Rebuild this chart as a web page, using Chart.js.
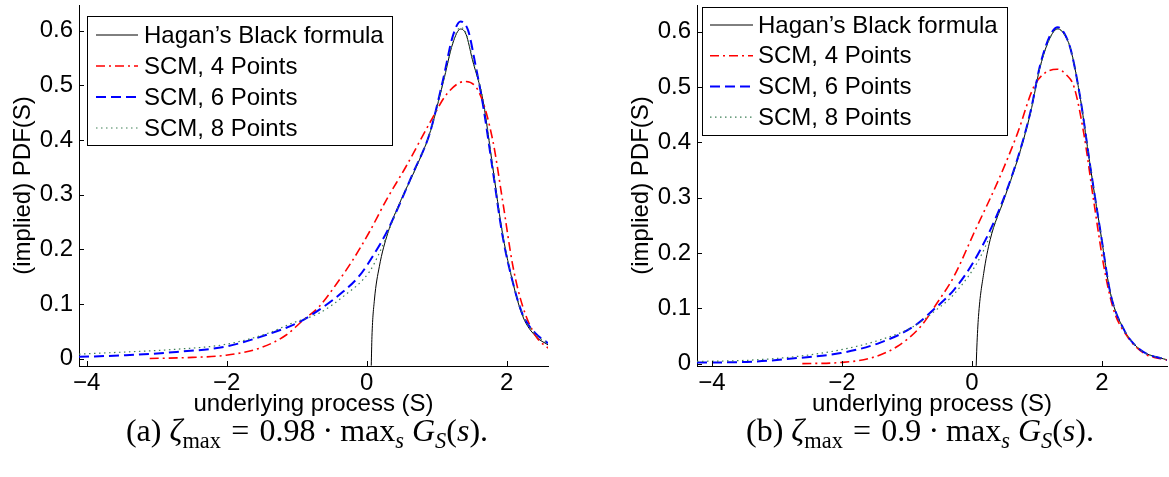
<!DOCTYPE html>
<html>
<head>
<meta charset="utf-8">
<script src="https://cdn.jsdelivr.net/npm/chart.js@4.4.0/dist/chart.umd.min.js"></script>
<style>
  body { margin: 0; background: #fff; width: 1169px; height: 477px; position: relative; overflow: hidden; }
  .panel { position: absolute; top: 0; height: 420px; }
  .caption { position: absolute; top: 411px; font-family: 'Liberation Serif', 'DejaVu Serif', serif; font-size: 32px; line-height: 38px; white-space: nowrap; transform: translateX(-50%); color: #000; }
  .caption sub { font-size: 70%; vertical-align: -0.3em; line-height: 0; }
  .caption .op { margin: 0 0.32em; }
  .caption .dot { margin: 0 0.22em; }
</style>
</head>
<body>
<div class="panel" style="left:0;width:560px"><canvas id="chartA" width="560" height="420"></canvas></div>
<div class="panel" style="left:618px;width:551px"><canvas id="chartB" width="551" height="420"></canvas></div>
<div class="caption" style="left:307px">(a) <i>ζ</i><sub>max</sub><span class="op">=</span>0.98<span class="dot">·</span>max<sub><i>s</i></sub> <i>G</i><sub><i>S</i></sub>(<i>s</i>).</div>
<div class="caption" style="left:920px">(b) <i>ζ</i><sub>max</sub><span class="op">=</span>0.9<span class="dot">·</span>max<sub><i>s</i></sub> <i>G</i><sub><i>S</i></sub>(<i>s</i>).</div>
<script>
// tick values and series names
const xTicks = [-4, -2, 0, 2];
const yTicks = [0, 0.1, 0.2, 0.3, 0.4, 0.5, 0.6];
const seriesLabels = ['Hagan’s Black formula', 'SCM, 4 Points', 'SCM, 6 Points', 'SCM, 8 Points'];

// panel (a): zeta_max = 0.98
const hagA_x = [0.065, 0.075, 0.11, 0.18, 0.30, 0.49, 0.71, 0.90, 1.09, 1.23, 1.34, 1.42, 1.51, 1.66, 1.80, 1.94, 2.09, 2.23, 2.42, 2.59];
const hagA_y = [-0.013, 0.04, 0.107, 0.168, 0.229, 0.29, 0.351, 0.412, 0.504, 0.577, 0.603, 0.593, 0.547, 0.473, 0.351, 0.229, 0.138, 0.077, 0.040, 0.025];
const scm4A_x = [-3.10, -2.49, -2.01, -1.53, -1.15, -0.91, -0.68, -0.44, -0.20, 0.04, 0.28, 0.56, 0.90, 1.15, 1.40, 1.61, 1.80, 1.94, 2.09, 2.23, 2.42, 2.59];
const scm4A_y = [0.0, 0.002, 0.006, 0.019, 0.043, 0.07, 0.095, 0.135, 0.18, 0.232, 0.29, 0.351, 0.431, 0.485, 0.507, 0.486, 0.40, 0.29, 0.168, 0.095, 0.04, 0.019];
const scm6A_x = [-4.11, -3.44, -2.72, -2.01, -1.44, -0.96, -0.68, -0.34, -0.10, 0.10, 0.30, 0.66, 0.90, 1.09, 1.23, 1.34, 1.45, 1.55, 1.66, 1.80, 1.94, 2.09, 2.23, 2.42, 2.59];
const scm6A_y = [0.003, 0.006, 0.012, 0.022, 0.043, 0.067, 0.089, 0.122, 0.152, 0.19, 0.235, 0.339, 0.412, 0.51, 0.59, 0.617, 0.60, 0.54, 0.465, 0.345, 0.225, 0.138, 0.08, 0.045, 0.028];
const scm8A_x = [-4.11, -3.44, -2.72, -2.01, -1.44, -1.06, -0.68, -0.34, 0.04, 0.18, 0.30, 0.49, 0.71, 0.90, 1.09, 1.23, 1.34, 1.42, 1.51, 1.66, 1.80, 1.94, 2.09, 2.23, 2.42, 2.59];
const scm8A_y = [0.008, 0.012, 0.017, 0.026, 0.045, 0.065, 0.083, 0.113, 0.159, 0.193, 0.229, 0.29, 0.351, 0.412, 0.504, 0.578, 0.606, 0.595, 0.55, 0.475, 0.352, 0.23, 0.14, 0.08, 0.043, 0.028];

// panel (b): zeta_max = 0.9
const hagB_x = [0.065, 0.075, 0.10, 0.18, 0.28, 0.49, 0.70, 0.90, 1.05, 1.21, 1.32, 1.42, 1.52, 1.67, 1.82, 1.98, 2.13, 2.34, 2.59, 3.0];
const hagB_y = [-0.004, 0.03, 0.085, 0.163, 0.224, 0.296, 0.368, 0.453, 0.537, 0.591, 0.605, 0.595, 0.567, 0.477, 0.356, 0.236, 0.127, 0.061, 0.025, 0.0065];
const scm4B_x = [-2.61, -2.02, -1.56, -1.15, -0.79, -0.54, -0.28, 0.03, 0.42, 0.70, 0.95, 1.12, 1.31, 1.45, 1.57, 1.72, 1.87, 2.03, 2.18, 2.39, 2.64, 3.0];
const scm4B_y = [0.0, 0.002, 0.01, 0.031, 0.067, 0.109, 0.157, 0.236, 0.335, 0.416, 0.50, 0.525, 0.532, 0.522, 0.50, 0.416, 0.296, 0.175, 0.097, 0.049, 0.019, 0.0065];
const scm6B_x = [-4.23, -3.46, -2.69, -2.02, -1.41, -0.90, -0.54, -0.28, 0.03, 0.39, 0.70, 0.90, 1.05, 1.21, 1.32, 1.42, 1.52, 1.67, 1.82, 1.98, 2.13, 2.34, 2.59, 3.0];
const scm6B_y = [0.002, 0.003, 0.01, 0.019, 0.038, 0.067, 0.103, 0.133, 0.185, 0.27, 0.37, 0.455, 0.54, 0.595, 0.608, 0.597, 0.567, 0.477, 0.356, 0.236, 0.127, 0.061, 0.025, 0.0065];
const scm8B_x = [-4.23, -3.46, -2.69, -2.02, -1.41, -0.90, -0.54, -0.28, 0.13, 0.39, 0.70, 0.90, 1.05, 1.21, 1.32, 1.42, 1.52, 1.67, 1.82, 1.98, 2.13, 2.34, 2.59, 3.0];
const scm8B_y = [0.004, 0.006, 0.013, 0.025, 0.043, 0.067, 0.098, 0.125, 0.193, 0.265, 0.368, 0.453, 0.537, 0.591, 0.605, 0.595, 0.567, 0.477, 0.356, 0.236, 0.127, 0.061, 0.025, 0.0065];

const sans = "'Liberation Sans', Arial, sans-serif";
const pts = (xs, ys) => xs.map((x, i) => ({ x: x, y: ys[i] }));
const fmtX = v => v < 0 ? '\u2212' + Math.abs(v) : String(v);
const fmtY = v => v === 0 ? '0' : v.toFixed(1);

// line styles: black solid, red dash-dot, blue dashed, green dotted
function makeDatasets(h, s4, s6, s8) {
  return [
    { label: seriesLabels[0], data: h, borderColor: '#000', borderWidth: 1, borderDash: [], order: 3 },
    { label: seriesLabels[1], data: s4, borderColor: '#ff0000', borderWidth: 1.6, borderDash: [9, 4, 2, 4], order: 2 },
    { label: seriesLabels[2], data: s6, borderColor: '#0000ff', borderWidth: 2, borderDash: [10, 5], order: 1 },
    { label: seriesLabels[3], data: s8, borderColor: '#3d7f55', borderWidth: 1.2, borderDash: [1.5, 3.5], order: 0 }
  ].map(d => Object.assign(d, { pointRadius: 0, fill: false, cubicInterpolationMode: 'monotone' }));
}

// MATLAB-style ticks pointing into the plot area
const innerTicks = {
  id: 'innerTicks',
  afterDatasetsDraw(chart) {
    const { ctx, chartArea: a, scales: { x, y } } = chart;
    ctx.save();
    ctx.strokeStyle = '#000';
    ctx.lineWidth = 1;
    ctx.beginPath();
    x.ticks.forEach(t => {
      const px = Math.round(x.getPixelForValue(t.value)) + 0.5;
      ctx.moveTo(px, a.bottom);
      ctx.lineTo(px, a.bottom - 5);
    });
    y.ticks.forEach(t => {
      const py = Math.round(y.getPixelForValue(t.value)) + 0.5;
      ctx.moveTo(a.left, py);
      ctx.lineTo(a.left + 5, py);
    });
    ctx.stroke();
    ctx.restore();
  }
};

// boxed legend in the upper left corner of the plot
const boxLegend = {
  id: 'boxLegend',
  afterDatasetsDraw(chart, args, o) {
    const { ctx, chartArea: a } = chart;
    const x0 = a.left + o.dx, y0 = a.top + o.dy;
    ctx.save();
    ctx.fillStyle = '#fff';
    ctx.fillRect(x0, y0, o.w, o.h);
    ctx.strokeStyle = '#000';
    ctx.lineWidth = 1;
    ctx.strokeRect(x0 + 0.5, y0 + 0.5, o.w, o.h);
    ctx.font = '24px ' + sans;
    ctx.textBaseline = 'middle';
    chart.data.datasets.forEach((ds, i) => {
      const cy = y0 + o.first + i * o.gap;
      ctx.save();
      ctx.strokeStyle = ds.borderColor;
      ctx.lineWidth = ds.borderWidth;
      ctx.setLineDash(ds.borderDash);
      ctx.beginPath();
      ctx.moveTo(x0 + o.lineX, cy);
      ctx.lineTo(x0 + o.lineX + o.lineLen, cy);
      ctx.stroke();
      ctx.restore();
      ctx.fillStyle = '#000';
      ctx.fillText(ds.label, x0 + o.textX, cy + 1);
    });
    ctx.restore();
  }
};

function makeChart(id, datasets, xr, yr, padRight, legend) {
  return new Chart(document.getElementById(id), {
    type: 'line',
    data: { datasets: datasets },
    options: {
      responsive: false,
      animation: false,
      devicePixelRatio: 1,
      layout: { padding: { top: 5, right: padRight, left: 0, bottom: 0 } },
      plugins: {
        legend: { display: false },
        tooltip: { enabled: false },
        boxLegend: legend
      },
      scales: {
        x: {
          type: 'linear',
          min: xr[0],
          max: xr[1],
          afterBuildTicks: s => { s.ticks = xTicks.map(v => ({ value: v })); },
          afterFit: s => { s.height = 54; s.paddingLeft = 0; s.paddingRight = 0; },
          grid: { display: false, drawTicks: false },
          border: { display: true, color: '#000', width: 1 },
          ticks: { color: '#000', font: { family: sans, size: 24 }, padding: 3, maxRotation: 0, autoSkip: false, callback: fmtX },
          title: { display: true, text: 'underlying process (S)', color: '#000', font: { family: sans, size: 24 }, padding: { top: 0, bottom: 1 } }
        },
        y: {
          type: 'linear',
          min: yr[0],
          max: yr[1],
          afterBuildTicks: s => { s.ticks = yTicks.map(v => ({ value: v })); },
          afterFit: s => { s.width = 79; s.paddingTop = 0; s.paddingBottom = 0; },
          grid: { display: false, drawTicks: false },
          border: { display: true, color: '#000', width: 1 },
          ticks: { color: '#000', font: { family: sans, size: 24 }, padding: 6, autoSkip: false, callback: fmtY },
          title: { display: true, text: '(implied) PDF(S)', color: '#000', font: { family: sans, size: 24 }, padding: { top: 9, bottom: 0 } }
        }
      }
    },
    plugins: [innerTicks, boxLegend]
  });
}

makeChart('chartA',
  makeDatasets(pts(hagA_x, hagA_y), pts(scm4A_x, scm4A_y), pts(scm6A_x, scm6A_y), pts(scm8A_x, scm8A_y)),
  [-4.11, 2.59], [-0.0137, 0.647], 12,
  { dx: 8, dy: 11, w: 305, h: 129, first: 19, gap: 31, lineX: 9, lineLen: 42, textX: 57 });

makeChart('chartB',
  makeDatasets(pts(hagB_x, hagB_y), pts(scm4B_x, scm4B_y), pts(scm6B_x, scm6B_y), pts(scm8B_x, scm8B_y)),
  [-4.23, 3.0], [-0.0043, 0.648], 2,
  { dx: 5, dy: 2, w: 305, h: 128, first: 18, gap: 30.7, lineX: 8, lineLen: 43, textX: 56 });
</script>
</body>
</html>
